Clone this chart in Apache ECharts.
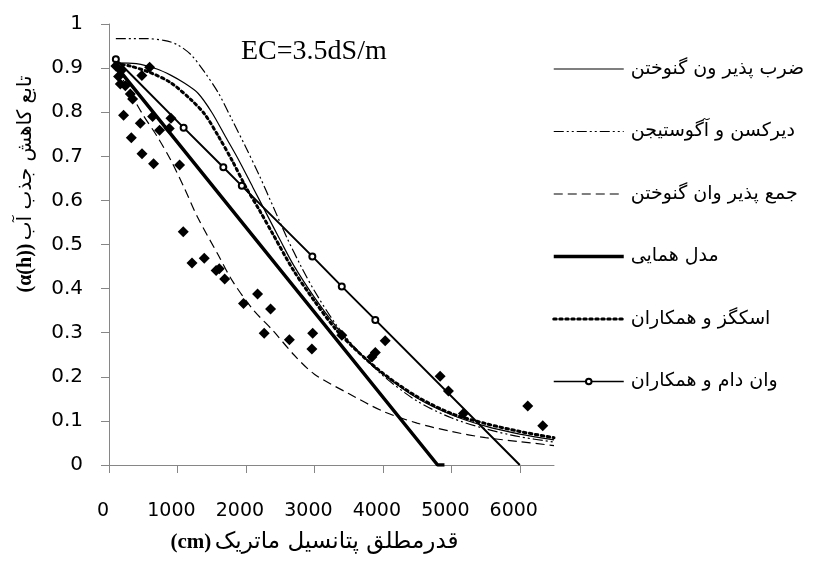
<!DOCTYPE html>
<html><head><meta charset="utf-8">
<script src="https://cdn.jsdelivr.net/npm/echarts@6/dist/echarts.min.js"></script>
<style>html,body{margin:0;padding:0;background:#fff}#c{width:820px;height:565px}</style>
</head><body><div id="c"></div>
<script>
const xTicks = [0, 1000, 2000, 3000, 4000, 5000, 6000];
const yTicks = [0, 0.1, 0.2, 0.3, 0.4, 0.5, 0.6, 0.7, 0.8, 0.9, 1];
const seriesNames = ['ضرب پذیر ون گنوختن', 'دیرکسن و آگوستیجن', 'جمع پذیر وان گنوختن', 'مدل همایی', 'اسکگز و همکاران', 'وان دام و همکاران'];
const xTitleUnit = '(cm)';
const xTitle = 'قدرمطلق پتانسیل ماتریک';
const yTitleUnit = '(α(h))';
const yTitle = 'تابع کاهش جذب آب';
const ecLabel = 'EC=3.5dS/m';

const measured = [[100,0.905],[140,0.881],[165,0.864],[175,0.894],[213,0.793],[238,0.86],[311,0.841],[326,0.742],[345,0.83],[457,0.775],[480,0.883],[482,0.706],[593,0.902],[637,0.79],[651,0.683],[739,0.759],[880,0.763],[905,0.786],[1031,0.68],[1085,0.529],[1212,0.458],[1391,0.469],[1565,0.441],[1610,0.445],[1690,0.422],[1965,0.366],[2170,0.388],[2267,0.299],[2360,0.354],[2635,0.284],[2963,0.263],[2975,0.299],[3401,0.294],[3840,0.245],[3890,0.255],[4034,0.282],[4837,0.201],[4958,0.168],[5177,0.117],[6117,0.134],[6336,0.089]];
const multiplicative = [[100,0.912],[400,0.91],[700,0.898],[900,0.884],[1100,0.866],[1300,0.843],[1500,0.8],[1700,0.745],[1900,0.69],[2100,0.63],[2300,0.57],[2500,0.51],[2700,0.452],[3000,0.38],[3300,0.317],[3600,0.263],[4000,0.207],[4500,0.152],[5000,0.114],[5500,0.088],[6000,0.07],[6500,0.057]];
const dirksen = [[100,0.967],[500,0.967],[800,0.963],[1000,0.953],[1200,0.93],[1400,0.89],[1600,0.843],[1800,0.782],[2000,0.72],[2200,0.655],[2400,0.585],[2600,0.515],[2800,0.452],[3000,0.395],[3300,0.322],[3600,0.265],[4000,0.203],[4500,0.145],[5000,0.107],[5500,0.082],[6000,0.064],[6500,0.052]];
const additive = [[100,0.9],[200,0.875],[300,0.847],[500,0.793],[700,0.746],[900,0.692],[1100,0.628],[1300,0.56],[1600,0.475],[1800,0.418],[2100,0.353],[2400,0.304],[2700,0.25],[3000,0.206],[3500,0.162],[4000,0.122],[4500,0.095],[5000,0.076],[5500,0.062],[6000,0.053],[6500,0.044]];
const homaee = [[100,0.905],[4800,0],[4900,0]];
const skaggs = [[100,0.91],[300,0.905],[600,0.89],[900,0.867],[1200,0.828],[1400,0.795],[1600,0.745],[1800,0.69],[2000,0.63],[2200,0.577],[2400,0.522],[2700,0.44],[3000,0.372],[3300,0.31],[3600,0.262],[4000,0.208],[4500,0.155],[5000,0.117],[5500,0.094],[6000,0.076],[6500,0.062]];
const vanDam = [[100,0.92],[1090,0.765],[1670,0.675],[1940,0.633],[2970,0.473],[3400,0.405],[3890,0.329],[6000,0]];

const chart = echarts.init(document.getElementById('c'), null, {renderer: 'canvas'});
const axisColor = '#868686';
const lblFont = 'DejaVu Sans';
const arFont = 'DejaVu Sans';

const vanDamData = vanDam.map((p, i) => i === vanDam.length - 1 ? {value: p, symbol: 'none'} : p);

const styles = [
  {width: 1.2, type: 'solid'},
  {width: 1.2, type: [10, 3, 2, 3, 2, 3]},
  {width: 1.2, type: [9, 5]},
  {width: 3.5, type: 'solid'},
  {width: 3, type: [2.5, 3.5], cap: 'round'},
  {width: 1.6, type: 'solid'}
];

const legendData = seriesNames.map((n, i) => ({
  name: n,
  lineStyle: Object.assign({color: '#000'}, styles[i]),
  itemStyle: i === 5 ? {color: '#000', borderColor: '#000', borderWidth: 1.2} : {opacity: 0}
}));

chart.setOption({
  animation: false,
  backgroundColor: '#fff',
  grid: {left: 109, right: 266, top: 24, bottom: 100, containLabel: false},
  xAxis: {
    type: 'value', min: 0, max: 6500, interval: 1000,
    axisLine: {show: true, lineStyle: {color: axisColor, width: 1}},
    axisTick: {show: true, length: 8, lineStyle: {color: axisColor}, customValues: xTicks},
    axisLabel: {color: '#000', fontSize: 19, fontFamily: lblFont, margin: 37, customValues: xTicks, padding: [0, 12, 0, 0],
      formatter: v => String(v)},
    splitLine: {show: false},
    name: '{u|' + xTitleUnit + '} {t|' + xTitle + '}',
    nameLocation: 'middle', nameGap: 66,
    nameTextStyle: {
      padding: [0, 34, 0, 0],
      rich: {
        u: {fontSize: 21, fontWeight: 'bold', fontFamily: 'Liberation Serif', color: '#000'},
        t: {fontSize: 23, fontFamily: arFont, color: '#000'}
      }
    }
  },
  yAxis: {
    type: 'value', min: 0, max: 1, interval: 0.1,
    axisLine: {show: true, lineStyle: {color: axisColor, width: 1}},
    axisTick: {show: true, length: 8, lineStyle: {color: axisColor}},
    axisLabel: {color: '#000', fontSize: 20, fontFamily: lblFont, margin: 26,
      formatter: v => String(Math.round(v * 10) / 10)},
    splitLine: {show: false}
  },
  legend: {
    orient: 'vertical', left: 547, top: 52,
    itemWidth: 70, itemHeight: 7, itemGap: 38.5,
    data: legendData,
    textStyle: {fontSize: 19, fontFamily: arFont, color: '#000', lineHeight: 24, padding: [0, 0, 0, 2]},
    selectedMode: false
  },
  graphic: [
    {type: 'text', left: 241, top: 38, style: {text: ecLabel, font: '28px "Liberation Serif"', fill: '#000'}},
    {type: 'text', x: 26, y: 184, rotation: Math.PI / 2,
      style: {text: '{u|' + yTitleUnit + '} {t|' + yTitle + '}', align: 'center', verticalAlign: 'middle',
        rich: {u: {fontSize: 20, fontWeight: 'bold', fontFamily: 'Liberation Serif', fill: '#000'},
               t: {fontSize: 20, fontFamily: arFont, fill: '#000'}}}}
  ],
  series: [
    {name: seriesNames[0], type: 'line', data: multiplicative, symbol: 'none', smooth: 0.3,
      lineStyle: Object.assign({color: '#000'}, styles[0]), itemStyle: {color: '#000'}},
    {name: seriesNames[1], type: 'line', data: dirksen, symbol: 'none', smooth: 0.3,
      lineStyle: Object.assign({color: '#000'}, styles[1]), itemStyle: {color: '#000'}},
    {name: seriesNames[2], type: 'line', data: additive, symbol: 'none', smooth: 0.3,
      lineStyle: Object.assign({color: '#000'}, styles[2]), itemStyle: {color: '#000'}},
    {name: seriesNames[3], type: 'line', data: homaee, symbol: 'none',
      lineStyle: Object.assign({color: '#000'}, styles[3]), itemStyle: {color: '#000'}},
    {name: seriesNames[4], type: 'line', data: skaggs, symbol: 'none', smooth: 0.3,
      lineStyle: Object.assign({color: '#000'}, styles[4]), itemStyle: {color: '#000'}},
    {name: seriesNames[5], type: 'line', data: vanDamData, symbol: 'emptyCircle', symbolSize: 6, showSymbol: true,
      lineStyle: {color: '#000', width: 2}, itemStyle: {color: '#000', borderColor: '#000', borderWidth: 1}},
    {name: 'measured', type: 'scatter', data: measured, symbol: 'diamond', symbolSize: 11,
      itemStyle: {color: '#000', opacity: 1}, z: 5}
  ]
});
</script>
</body></html>
